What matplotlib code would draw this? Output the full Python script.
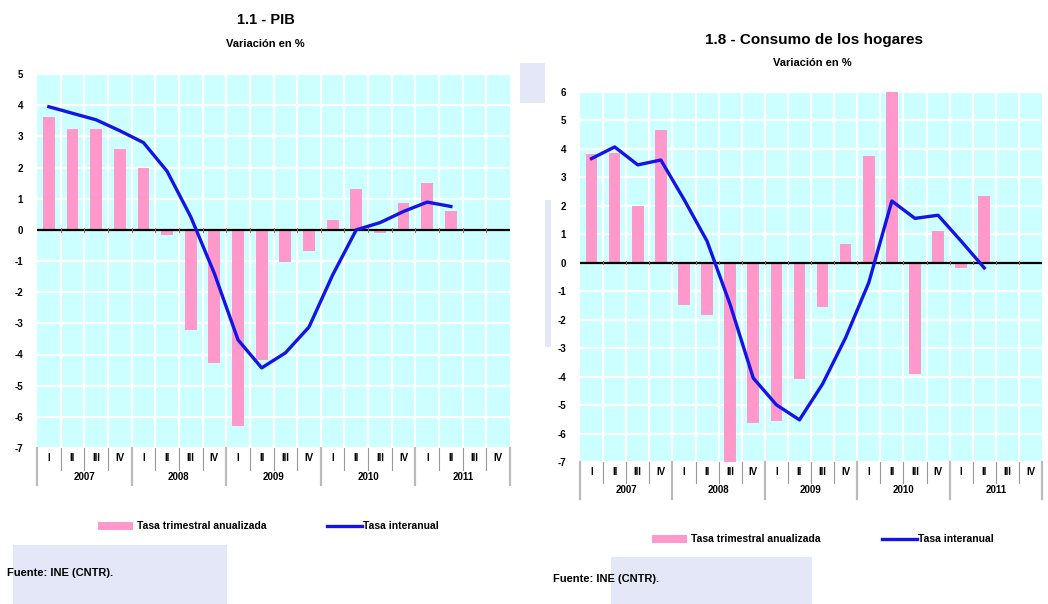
import numpy as np
import matplotlib
matplotlib.use("Agg")
import matplotlib.pyplot as plt
from matplotlib.patches import Rectangle
from matplotlib.lines import Line2D
import matplotlib.transforms as mtransforms

plt.rcParams['font.family'] = ['Liberation Sans', 'DejaVu Sans']
plt.rcParams['font.weight'] = 'bold'
plt.rcParams['axes.unicode_minus'] = False

# Quarterly data, 2007 I - 2011 IV
quarters = ['I', 'II', 'III', 'IV'] * 5
years = ['2007', '2008', '2009', '2010', '2011']
nan = np.nan

pib_trim = [3.63, 3.23, 3.25, 2.59, 1.98, -0.18, -3.2, -4.27, -6.3, -4.17,
            -1.04, -0.67, 0.32, 1.30, -0.09, 0.86, 1.50, 0.62, nan, nan]
pib_inter = [3.95, 3.74, 3.53, 3.18, 2.80, 1.88, 0.42, -1.40, -3.53, -4.43,
             -3.95, -3.12, -1.45, 0.0, 0.23, 0.59, 0.89, 0.75, nan, nan]

cons_trim = [3.81, 3.87, 2.0, 4.66, -1.5, -1.85, -7.0, -5.63, -5.55, -4.07,
             -1.55, 0.67, 3.75, 6.0, -3.91, 1.11, -0.2, 2.35, nan, nan]
cons_inter = [3.66, 4.07, 3.44, 3.61, 2.23, 0.76, -1.47, -4.05, -4.99, -5.52,
              -4.26, -2.63, -0.7, 2.17, 1.56, 1.67, 0.76, -0.18, nan, nan]

BG = '#CCFFFF'
PINK = '#FF99CC'
BLUE = '#1414E6'
LAV = '#E4E7F8'

fig = plt.figure(figsize=(10.48, 6.04), dpi=100)
fig.patch.set_facecolor('white')

# pale boxes behind the source notes
for (x0, y0, w, h) in [(13, 545, 214, 59), (611, 557, 201, 47),
                       (520, 63, 25, 40), (545, 200, 6, 147)]:
    fig.patches.append(Rectangle((x0 / 1048, 1 - (y0 + h) / 604), w / 1048, h / 604,
                                 transform=fig.transFigure, facecolor=LAV,
                                 edgecolor='none', zorder=0))


def draw_panel(rect, trim, inter, ymin, ymax, lab_y, year_y, sep_short, sep_long):
    ax = fig.add_axes(rect)
    n = len(quarters)
    x = np.arange(n)
    ax.set_facecolor(BG)
    ax.set_xlim(-0.5, n - 0.5)
    ax.set_ylim(ymin, ymax)

    # white grid
    for yv in range(ymin, ymax + 1):
        ax.axhline(yv, color='white', lw=1.6, zorder=1)
    for xv in np.arange(0.5, n - 0.5, 1):
        ax.axvline(xv, color='white', lw=1.6, zorder=1)

    ax.bar(x, trim, width=0.5, color=PINK, zorder=2)
    ax.axhline(0, color='black', lw=1.6, zorder=3)
    # small ticks along the zero line
    for xv in np.arange(0.5, n - 0.5, 1):
        ax.plot([xv, xv], [-0.06, 0.06], color='#777777', lw=0.8, zorder=3)
    ax.plot(x, inter, color=BLUE, lw=2.4, zorder=4, solid_joinstyle='round')

    for s in ax.spines.values():
        s.set_visible(False)
    ax.set_xticks([])
    ax.set_yticks(range(ymin, ymax + 1))
    ax.tick_params(axis='y', length=0, pad=10, labelsize=7)
    for t in ax.get_yticklabels():
        t.set_fontweight('bold')

    # category axis below the plot
    trans = mtransforms.blended_transform_factory(ax.transData, ax.transAxes)
    for i, q in enumerate(quarters):
        ax.text(i, lab_y, q, transform=trans, ha='center', va='center',
                fontsize=7, fontweight='bold', clip_on=False)
    for k in range(n + 1):
        xv = k - 0.5
        if k % 4 == 0:
            ax.plot([xv, xv], [0, sep_long], transform=trans, color='#BBBBBB',
                    lw=1.6, clip_on=False)
        else:
            ax.plot([xv, xv], [0, sep_short], transform=trans, color='#999999',
                    lw=0.8, clip_on=False)
    for j, yr in enumerate(years):
        ax.text(j * 4 + 1.5, year_y, yr, transform=trans, ha='center', va='center',
                fontsize=7, fontweight='bold', clip_on=False)
    return ax


draw_panel([37 / 1048, 1 - 448 / 604, 473 / 1048, 374 / 604],
           pib_trim, pib_inter, -7, 5, -0.027, -0.078, -0.059, -0.099)
draw_panel([580 / 1048, 1 - 462 / 604, 462 / 1048, 370 / 604],
           cons_trim, cons_inter, -7, 6, -0.027, -0.076, -0.056, -0.10)

# titles
fig.text(266 / 1048, 1 - 20 / 604, '1.1 - PIB', ha='center', va='center',
         fontsize=10.5, fontweight='bold')
fig.text(265 / 1048, 1 - 44 / 604, 'Variación en %', ha='center', va='center',
         fontsize=8, fontweight='bold')
fig.text(814 / 1048, 1 - 40 / 604, '1.8 - Consumo de los hogares', ha='center',
         va='center', fontsize=11, fontweight='bold')
fig.text(812 / 1048, 1 - 63 / 604, 'Variación en %', ha='center', va='center',
         fontsize=8, fontweight='bold')


def draw_legend(px0, py, lx0, tx_gap=4):
    fy = 1 - py / 604
    fig.patches.append(Rectangle((px0 / 1048, fy - 4 / 604), 35 / 1048, 8 / 604,
                                 transform=fig.transFigure, facecolor=PINK,
                                 edgecolor='none'))
    fig.text((px0 + 35 + tx_gap) / 1048, fy, 'Tasa trimestral anualizada',
             ha='left', va='center', fontsize=7.5, fontweight='bold')
    fig.lines.append(Line2D([lx0 / 1048, (lx0 + 35) / 1048], [fy, fy],
                            transform=fig.transFigure, color=BLUE, lw=2.4))
    fig.text((lx0 + 35 + 1) / 1048, fy, 'Tasa interanual',
             ha='left', va='center', fontsize=7.5, fontweight='bold')


draw_legend(98, 526, 327)
draw_legend(652, 539, 882)

fig.text(7 / 1048, 1 - 573 / 604, 'Fuente: INE (CNTR).', ha='left', va='center',
         fontsize=8, fontweight='bold')
fig.text(553 / 1048, 1 - 579 / 604, 'Fuente: INE (CNTR).', ha='left', va='center',
         fontsize=8, fontweight='bold')

fig.savefig('out.png', dpi=100)
